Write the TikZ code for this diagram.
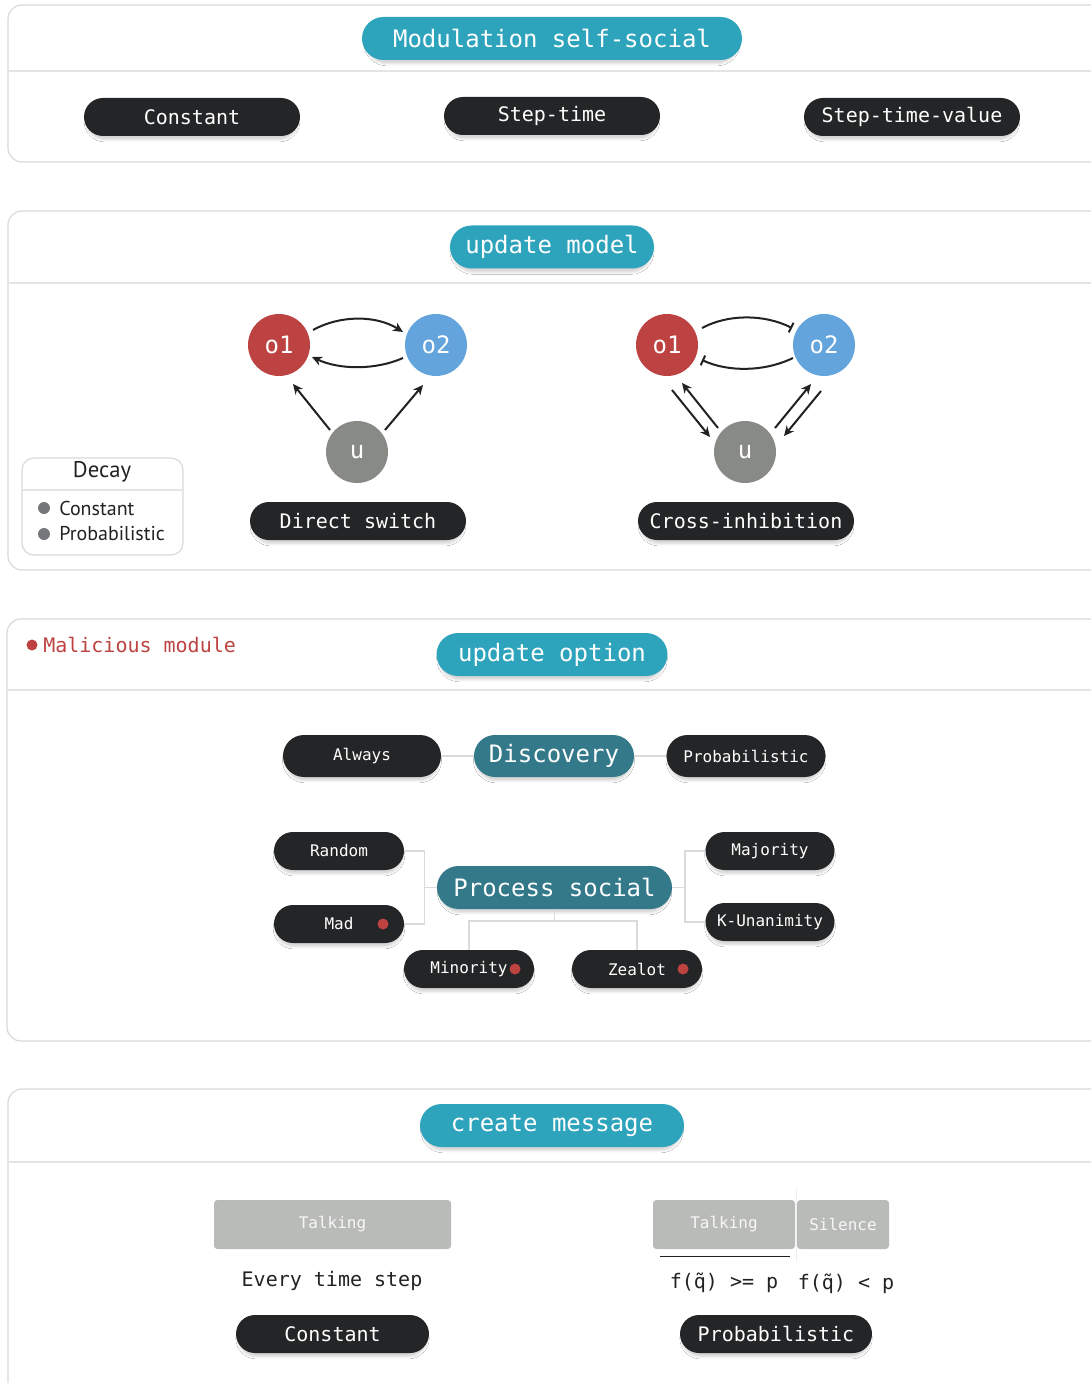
\documentclass[tikz,border=0pt]{standalone}
\usepackage{fontspec}
\newfontfamily\monof{DejaVu Sans Mono}
\newfontfamily\sansf{PT Sans}
\usetikzlibrary{shapes.misc,arrows.meta,calc,shadows.blur}

\definecolor{panelgray}{HTML}{D9D9D9}
\definecolor{divgray}{HTML}{E4E4E4}
\definecolor{linkgray}{HTML}{DADADA}
\definecolor{tealA}{HTML}{2EA3BC}
\definecolor{tealB}{HTML}{33798A}
\definecolor{pilldark}{HTML}{242526}
\definecolor{ink}{HTML}{222222}
\definecolor{redop}{HTML}{BD4342}
\definecolor{blueop}{HTML}{62A4DB}
\definecolor{grayop}{HTML}{878A85}
\definecolor{boxgray}{HTML}{B9BBB8}
\definecolor{bulletgray}{HTML}{76777A}

\newcommand\szL{\fontsize{18pt}{21pt}\selectfont}
\newcommand\szM{\fontsize{15pt}{18pt}\selectfont}
\newcommand\szS{\fontsize{12pt}{14pt}\selectfont}

\begin{document}
\begin{tikzpicture}[x=0.75pt,y=-0.75pt,
  panel/.style={draw=panelgray, line width=0.9pt, rounded corners=10.5pt},
  divider/.style={draw=divgray, line width=0.9pt},
  pillbase/.style={rounded rectangle, inner sep=0pt,
    blur shadow={shadow xshift=0pt, shadow yshift=-3.2pt, shadow opacity=16, shadow blur radius=1.6pt, shadow scale=0.98}},
  head/.style={pillbase, fill=tealA, text=white, font=\monof\szL, minimum height=43*0.75pt},
  dpill/.style={pillbase, fill=pilldark, text=white, font=\monof\szM, minimum height=38*0.75pt},
  spill/.style={dpill, font=\monof\szS},
  tpill/.style={pillbase, fill=tealB, text=white, font=\monof\szL, minimum height=42*0.75pt},
  w/.style={minimum width=#1*0.75pt},
  opnode/.style={circle, inner sep=0pt, minimum size=62*0.75pt, text=white, font=\monof\szL},
  arr/.style={draw=ink, line width=1.5pt, -{Stealth[length=7.5pt,width=7pt]}},
  inh/.style={draw=ink, line width=1.5pt, -{Bar[width=8pt,line width=1.5pt]}},
  link/.style={draw=linkgray, line width=0.8pt},
  gbox/.style={fill=boxgray, rounded corners=2.5pt, text=white!94!gray, font=\monof\szS, inner sep=0pt, minimum height=49*0.75pt},
  reddot/.style={circle, fill=redop, inner sep=0pt, minimum size=11*0.75pt},
  graydot/.style={circle, fill=bulletgray, inner sep=0pt, minimum size=12*0.75pt},
  plain/.style={text=ink, font=\monof\szM, inner sep=0pt},
  legend/.style={anchor=west, text=ink, font=\sansf\fontsize{15pt}{18pt}\selectfont, inner sep=0pt}
]
\useasboundingbox (0,0) rectangle (1091,1383);
\clip (0,0) rectangle (1091,1383);
\fill[white] (0,0) rectangle (1091,1383);

% ---------- Modulation self-social ----------
\draw[panel] (8,5) rectangle (1120,162);
\draw[divider] (8,71) -- (1120,71);
\node[head, w=380] (hmod) at (552,38.5) {Modulation self-social};
\node[dpill, w=216] (mc) at (192,117) {Constant};
\node[dpill, w=216] (ms) at (552,116) {Step-time};
\node[dpill, w=216] (mv) at (912,117) {Step-time-value};

% ---------- update model ----------
\draw[panel] (8,211) rectangle (1120,570);
\draw[divider] (8,283) -- (1120,283);
\node[head, w=204] (hmodel) at (552,247) {update model};

% direct switch
\node[opnode, fill=redop] (o1a) at (279,345) {o1};
\node[opnode, fill=blueop] (o2a) at (436,345) {o2};
\node[opnode, fill=grayop] (ua) at (357,452) {u};
\draw[arr] ($(o1a)+(34,-15)$) .. controls ($(o1a)+(61,-30)$) and ($(o2a)+(-60,-30)$) .. ($(o2a)+(-33,-13)$);
\draw[arr] ($(o2a)+(-33,13)$) .. controls ($(o2a)+(-60,25)$) and ($(o1a)+(61,25)$) .. ($(o1a)+(33,12)$);
\draw[arr] ($(ua)+(-27,-22)$) -- ($(o1a)+(14,39)$);
\draw[arr] ($(ua)+(28,-22)$) -- ($(o2a)+(-13,40)$);
\node[dpill, w=216] (ds) at (358,521) {Direct switch};

% cross-inhibition
\node[opnode, fill=redop] (o1b) at (667,345) {o1};
\node[opnode, fill=blueop] (o2b) at (824,345) {o2};
\node[opnode, fill=grayop] (ub) at (745,452) {u};
\draw[inh] ($(o1b)+(35,-17)$) .. controls ($(o1b)+(61,-31)$) and ($(o2b)+(-60,-31)$) .. ($(o2b)+(-32,-17)$);
\draw[inh] ($(o2b)+(-31,13)$) .. controls ($(o2b)+(-60,27)$) and ($(o1b)+(61,27)$) .. ($(o1b)+(35,15)$);
\draw[arr] ($(o1b)+(5,45)$) -- ($(ub)+(-35,-15)$);
\draw[arr] ($(ub)+(-27,-24)$) -- ($(o1b)+(15,38)$);
\draw[arr] ($(ub)+(30,-24)$) -- ($(o2b)+(-13,39)$);
\draw[arr] ($(o2b)+(-3,46)$) -- ($(ub)+(39,-16)$);
\node[dpill, w=216] (ci) at (746,521) {Cross-inhibition};

% decay legend
\draw[panel, rounded corners=9pt] (22,458) rectangle (183,555);
\draw[divider] (22,490) -- (183,490);
\node[text=ink, font=\sansf\fontsize{17pt}{20pt}\selectfont, inner sep=0pt] (decay) at (102,472) {Decay};
\node[graydot] (b1) at (44,508) {};
\node[graydot] (b2) at (44,534) {};
\node[legend] (dc) at (59,508) {Constant};
\node[legend] (dp) at (59,534) {Probabilistic};

% ---------- update option ----------
\draw[panel] (7,619) rectangle (1120,1041);
\draw[divider] (7,690) -- (1120,690);
\node[reddot] (mdot) at (32,645) {};
\node[anchor=west, text=redop, font=\monof\szM, inner sep=0pt] (mal) at (43,645) {Malicious module};
\node[head, w=231] (hopt) at (552,654.5) {update option};

\node[spill, w=158, minimum height=42*0.75pt] (always) at (362,756) {Always};
\node[tpill, w=160] (disc) at (554,756) {Discovery};
\node[spill, w=159, minimum height=42*0.75pt] (probo) at (746,756) {Probabilistic};
\draw[link] (always.east) -- (disc.west);
\draw[link] (disc.east) -- (probo.west);

\node[tpill, w=235, minimum height=43*0.75pt] (psoc) at (554.5,887.5) {Process social};
\node[spill, w=130] (rand) at (339,851) {Random};
\node[spill, w=130] (mad) at (339,924) {Mad};
\node[spill, w=129] (maj) at (770,851) {Majority};
\node[spill, w=129] (kun) at (770,922) {K-Unanimity};
\node[spill, w=130] (mino) at (469,969) {Minority};
\node[spill, w=130] (zeal) at (637,969) {Zealot};
\node[reddot] (maddot) at (383,924) {};
\node[reddot] (minodot) at (515,969) {};
\node[reddot] (zealdot) at (683,969) {};

\coordinate (lj) at (424.5,887.5);
\coordinate (rj) at (685,887.5);
\coordinate (bj) at (554.5,921);
\draw[link] (rand.east) -| (lj) |- (mad.east);
\draw[link] (lj) -- (psoc.west);
\draw[link] (maj.west) -| (rj) |- (kun.west);
\draw[link] (rj) -- (psoc.east);
\draw[link] (psoc.south) -- (bj);
\draw[link] (mino.north) |- (bj) -| (zeal.north);

% ---------- create message ----------
\draw[panel] (8,1089) rectangle (1120,1430);
\draw[divider] (8,1162) -- (1120,1162);
\node[head, w=264] (hmsg) at (552,1125.5) {create message};

\node[gbox, minimum width=237*0.75pt] (talk1) at (332.5,1224.5) {Talking};
\node[plain] (every) at (332,1281) {Every time step};
\node[dpill, w=193] (constb) at (332.5,1334) {Constant};

\draw[draw=divgray!60, line width=0.6pt] (796,1188) -- (796,1262);
\node[gbox, minimum width=142*0.75pt] (talk2) at (724,1224.5) {Talking};
\node[gbox, minimum width=92*0.75pt] (sil) at (843,1224.5) {Silence};
\draw[draw=ink, line width=1.1pt] ($(talk2.south west)+(7,7)$) -- ($(talk2.south east)+(-5,7)$);
\node[plain] (fge) at (724,1283) {f(q^^^^0303) >= p};
\node[plain] (flt) at (846,1284) {f(q^^^^0303) < p};
\node[dpill, w=192] (probb) at (776,1334) {Probabilistic};
\end{tikzpicture}
\end{document}
